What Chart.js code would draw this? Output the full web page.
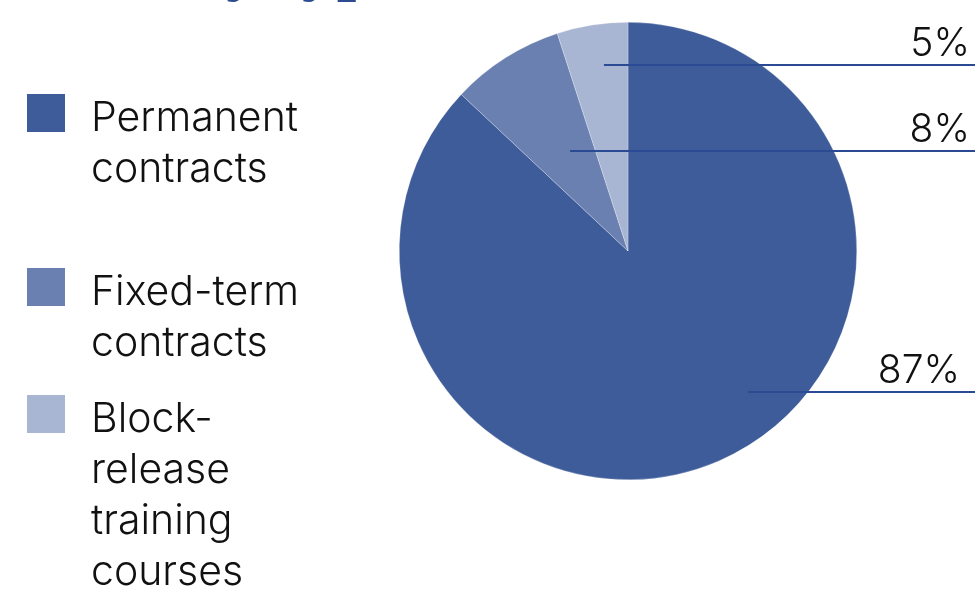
<!DOCTYPE html>
<html>
<head>
<meta charset="utf-8">
<script src="https://cdn.jsdelivr.net/npm/chart.js@4"></script>
<style>
  html, body { margin: 0; padding: 0; background: #fff; }
  body { width: 975px; height: 589px; position: relative; overflow: hidden; font-family: Inter, "Noto Sans", sans-serif; }
  #title { position: absolute; left: -126px; top: -71px; font: bold 70px/1 "Liberation Serif", serif; color: #2c4b90; white-space: nowrap; }
  #wrap { position: absolute; left: 0; top: 0; width: 975px; height: 589px; }
  .item { position: absolute; left: 27px; }
  .item .sw { position: absolute; left: 0; top: 0; width: 38px; height: 38px; }
  .item .txt { position: absolute; left: 64px; top: -3px; font-size: 41px; font-weight: 300; line-height: 51px; color: #111; white-space: nowrap; }
</style>
</head>
<body>
<div id="title">Contracts by type</div>
<div id="wrap"><canvas id="pie-chart"></canvas></div>
<div id="legend"></div>
<script>
///// data /////
const categories = ['Permanent contracts', 'Fixed-term contracts', 'Block-release training courses'];
const legendLines = [['Permanent', 'contracts'], ['Fixed-term', 'contracts'], ['Block-', 'release', 'training', 'courses']];
const shares = [87, 8, 5];
const colors = ['#3e5c99', '#6a80b0', '#a9b6d3'];

// where each leader line starts inside its slice: [fraction of the slice angle, fraction of radius]
const anchors = [[0.446, 0.81], [0.58, 0.505], [0.59, 0.819]];
const labelRightGap = [15, 5, 5];
const legendTops = [94, 268, 395];

///// legend (html) /////
const legend = document.getElementById('legend');
categories.forEach((c, i) => {
  const it = document.createElement('div');
  it.className = 'item';
  it.style.top = legendTops[i] + 'px';
  it.innerHTML = '<div class="sw" style="background:' + colors[i] + '"></div>' +
    '<div class="txt">' + legendLines[i].join('<br>') + '</div>';
  legend.appendChild(it);
});

///// leader lines + labels /////
const leaderLabels = {
  id: 'leaderLabels',
  afterDatasetsDraw(chart) {
    const ctx = chart.ctx;
    const meta = chart.getDatasetMeta(0);
    meta.data.forEach((arc, i) => {
      const p = arc.getProps(['x', 'y', 'startAngle', 'endAngle', 'outerRadius'], true);
      const a = p.startAngle + (p.endAngle - p.startAngle) * anchors[i][0];
      const r = p.outerRadius * anchors[i][1];
      const px = p.x + Math.cos(a) * r;
      const py = Math.round(p.y + Math.sin(a) * r);
      ctx.save();
      ctx.strokeStyle = '#2a4b94';
      ctx.lineWidth = 2;
      ctx.beginPath();
      ctx.moveTo(px, py);
      ctx.lineTo(chart.width, py);
      ctx.stroke();
      ctx.fillStyle = '#111';
      ctx.font = '300 39px Inter, "Noto Sans", sans-serif';
      ctx.textAlign = 'right';
      ctx.textBaseline = 'alphabetic';
      ctx.fillText(shares[i] + '%', chart.width - labelRightGap[i], py - 9);
      ctx.restore();
    });
  }
};

const config = {
  type: 'pie',
  data: {
    labels: categories,
    datasets: [{
      data: shares,
      backgroundColor: colors,
      borderColor: 'rgba(255,255,255,0.5)',
      borderWidth: 0.5
    }]
  },
  options: {
    responsive: true,
    maintainAspectRatio: false,
    animation: false,
    layout: { padding: { left: 399, right: 118, top: 22, bottom: 109 } },
    plugins: {
      legend: { display: false },
      tooltip: { enabled: false }
    }
  },
  plugins: [leaderLabels]
};

let pieChart = new Chart(document.getElementById('pie-chart'), config);
</script>
</body>
</html>
